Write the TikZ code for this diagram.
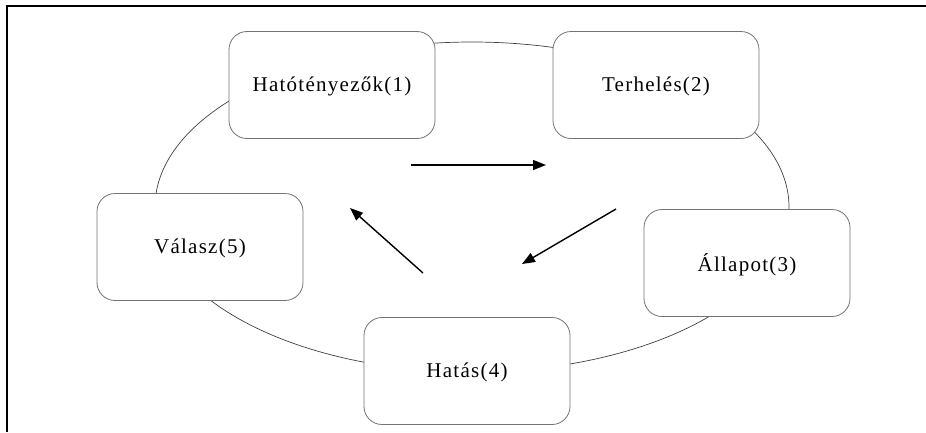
\documentclass[tikz,border=0pt]{standalone}
\usepackage{fontspec}
\setmainfont{Liberation Serif}
\usetikzlibrary{arrows.meta}

\begin{document}
\begin{tikzpicture}[x=1pt,y=-1pt,
		box/.style={draw=black!55,line width=0.8pt,fill=white,rounded corners=18pt,
			minimum width=206pt,minimum height=107pt,text depth=2pt,
			font=\fontsize{21}{25}\selectfont\addfontfeatures{LetterSpace=6}},
		flow/.style={line width=1.4pt,-{Triangle[length=13pt,width=10pt]}}]
		\useasboundingbox (0,0) rectangle (926,432);
		\draw[line width=1.3pt] (7,432) -- (7,6) -- (926,6);
		\draw[black!75,line width=0.7pt] (472,207) ellipse [x radius=317pt,y radius=165pt];
		\node[box] (h1) at (332,85) {Hatótényezők(1)};
		\node[box] (h2) at (656,85) {Terhelés(2)};
		\node[box] (h3) at (747,263) {Állapot(3)};
		\node[box] (h4) at (467,371) {Hatás(4)};
		\node[box] (h5) at (200,247) {Válasz(5)};
		\coordinate (a1) at (411,165);
		\coordinate (b1) at (546,165);
		\coordinate (a2) at (616,209);
		\coordinate (b2) at (522,264);
		\coordinate (a3) at (423,273);
		\coordinate (b3) at (350,208);
		\draw[flow] (a1) -- (b1);
		\draw[flow] (a2) -- (b2);
		\draw[flow] (a3) -- (b3);
	\end{tikzpicture}
\end{document}
